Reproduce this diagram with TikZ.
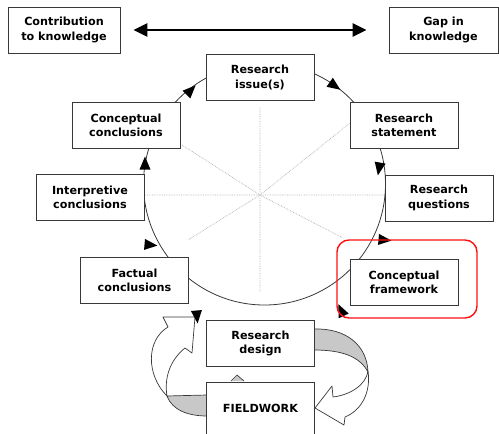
\documentclass[tikz,border=0pt]{standalone}
\usepackage{fontspec}
\setmainfont{DejaVu Sans}
\usetikzlibrary{shapes.geometric, arrows.meta, positioning, calc, fit}
\definecolor{boxline}{HTML}{383838}
\definecolor{ribbon}{HTML}{C8C8C8}
\definecolor{focusred}{HTML}{FF1010}

\begin{document}
\begin{tikzpicture}[
    x=1pt, y=-1pt,
    stepbox/.style={draw=boxline, fill=white, minimum width=108pt, minimum height=46pt, align=center,
                    font=\fontsize{11.2}{14.5}\selectfont\bfseries, line width=0.8pt, inner sep=2pt},
    ringline/.style={circle, draw=boxline, line width=0.8pt, minimum size=242pt, inner sep=0pt},
    spoke/.style={draw=gray!65, densely dotted, line width=0.7pt},
    blockarrow/.style={draw=boxline, fill=white, line width=0.7pt, line join=round},
    bandface/.style={draw=boxline, fill=ribbon, line width=0.7pt, line join=round},
    focusbox/.style={draw=focusred, rounded corners=12pt, line width=1.4pt, inner sep=0pt},
    biarrow/.style={{Triangle[length=14pt,width=13pt]}-{Triangle[length=14pt,width=13pt]}, line width=2.6pt},
    ringtip/.pic={\fill (6.5,0) -- (-6.5,5.5) -- (-6.5,-5.5) -- cycle;}
]
    \useasboundingbox (0,0) rectangle (499,434);

    % dotted spokes and the ring behind the boxes
    \coordinate (hub) at (260,195);
    \draw[spoke] (hub) -- (260,107) (hub) -- (260,292) (hub) -- (144,195) (hub) -- (385,195)
                 (hub) -- (182,145) (hub) -- (188,240) (hub) -- (350,123) (hub) -- (343,238);
    \node[ringline] (ring) at (264.5,184) {};

    % ribbon arrows between design and fieldwork
    \draw[bandface] (314,329) .. controls (346,328) and (367,345) .. (368,372)
                    .. controls (360,357) and (343,350) .. (314,350) -- cycle;
    \draw[blockarrow] (368,371) .. controls (366,385) and (350,395) .. (333,397) -- (332,386) -- (315,408)
                      -- (344,425) -- (345,417) .. controls (362,410) and (371,392) .. (368,371) -- cycle;
    \draw[bandface] (207,395) -- (167,396) .. controls (172,410) and (188,416) .. (207,416) -- cycle;
    \draw[blockarrow] (167,396) .. controls (146,375) and (146,340) .. (168,327) -- (163,317) -- (195,317)
                      -- (192,353) -- (185,348) .. controls (170,360) and (164,378) .. (167,396) -- cycle;

    \node[stepbox, minimum width=112pt] (contrib) at (64,30) {Contribution\\to knowledge};
    \node[stepbox, minimum width=109pt] (gap) at (443.5,30) {Gap in\\knowledge};
    \node[stepbox] (issue) at (260,77.5) {Research\\issue(s)};
    \node[stepbox] (statement) at (404,125.5) {Research\\statement};
    \node[stepbox] (questions) at (439,198) {Research\\questions};
    \node[stepbox, below=110pt of statement] (framework) {Conceptual\\framework};
    \node[stepbox] (conclconcept) at (126,125.5) {Conceptual\\conclusions};
    \node[stepbox] (interp) at (90,197.5) {Interpretive\\conclusions};
    \node[stepbox] (factual) at (134.5,280.5) {Factual\\conclusions};
    \node[stepbox] (design) at (260.5,343.5) {Research\\design};
    \node[stepbox, below=15pt of design, minimum height=53pt] (fieldwork) {FIELDWORK};

    \draw[bandface] (231,381) -- (237,375) -- (244,381);
    \draw[biarrow, shorten <=13pt, shorten >=22pt] (contrib) -- (gap);

    % arrowheads along the ring
    \pic[rotate=45] at (191,90) {ringtip};
    \pic[rotate=-35] at (335,86) {ringtip};
    \pic[rotate=-100] at (379,169) {ringtip};
    \pic[rotate=-5] at (385,240) {ringtip};
    \pic[rotate=90] at (145,163) {ringtip};
    \pic[rotate=-5] at (151,245) {ringtip};
    \pic[rotate=-85] at (197,317) {ringtip};
    \pic[rotate=115] at (341,310) {ringtip};

    \node[focusbox, fit={(337,240) (477,318)}] (focus) {};
\end{tikzpicture}
\end{document}
